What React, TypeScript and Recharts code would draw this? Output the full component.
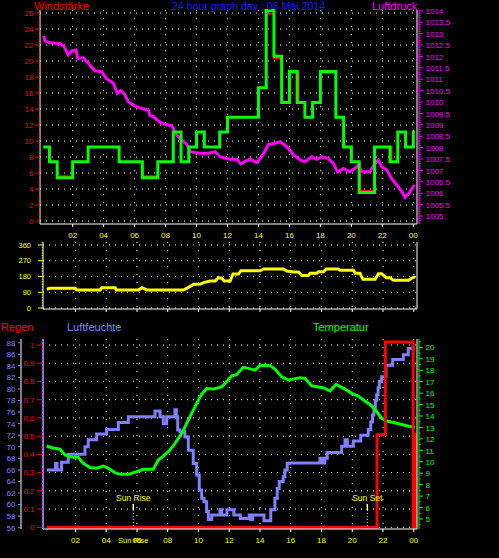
import React from 'react';
import {
  ComposedChart, Line, XAxis, YAxis, CartesianGrid, ReferenceLine, ReferenceDot,
} from 'recharts';

const FONT = '"Liberation Sans", Arial, Helvetica, sans-serif';
const RED = '#ff0000';
const MAGENTA = '#ff00ff';
const GREEN = '#00ff00';
const YELLOW = '#ffff00';
const LAVENDER = '#8080ff';
const TITLE_BLUE = '#1a1aff';
const WHITE = '#ffffff';

// x axis (hours of the day)
const hourTicks = [2, 4, 6, 8, 10, 12, 14, 16, 18, 20, 22, 24];
const hourLabels = ['02', '04', '06', '08', '10', '12', '14', '16', '18', '20', '22', '00'];

// y axis ticks and labels
const windTicks = [0, 2, 4, 6, 8, 10, 12, 14, 16, 18, 20, 22, 24, 26];
const pressureTicks = [1005, 1005.5, 1006, 1006.5, 1007, 1007.5, 1008, 1008.5, 1009, 1009.5,
  1010, 1010.5, 1011, 1011.5, 1012, 1012.5, 1013, 1013.5, 1014];
const directionTicks = [0, 90, 180, 270, 360];
const compassLabels = ['N', 'O', 'S', 'W', 'N'];
const rainTicks = [0, 0.1, 0.2, 0.3, 0.4, 0.5, 0.6, 0.7, 0.8, 0.9, 1];
const rainLabels = ['0', '0.1', '0.2', '0.3', '0.4', '0.5', '0.6', '0.7', '0.8', '0.9', '1'];
const humidityTicks = [56, 58, 60, 62, 64, 66, 68, 70, 72, 74, 76, 78, 80, 82, 84, 86, 88];
const temperatureTicks = [5, 6, 7, 8, 9, 10, 11, 12, 13, 14, 15, 16, 17, 18, 19, 20];

const sunRise = 5.76;
const sunSet = 20.98;

// [hour, hPa]
const pressure = [
  [0.13, 1012.9], [0.21, 1012.68], [0.54, 1012.6], [1.18, 1012.57], [1.44, 1012.43], [1.72, 1012.06],
  [1.98, 1012.25], [2.22, 1012.28], [2.32, 1011.92], [2.69, 1011.94], [3.01, 1011.7], [3.44, 1011.37],
  [3.88, 1011.33], [4.15, 1011.04], [4.63, 1010.82], [4.88, 1010.38], [5.1, 1010.5], [5.32, 1010.38],
  [5.6, 1010.0], [6.03, 1009.82], [6.46, 1009.72], [6.89, 1009.65], [7.0, 1009.4], [7.21, 1009.36],
  [7.53, 1009.17], [7.86, 1009.04], [8.4, 1008.96], [8.72, 1008.55], [9.04, 1008.33], [9.37, 1008.14],
  [9.6, 1007.82], [10.2, 1007.75], [10.76, 1007.75], [11.2, 1007.82], [11.52, 1007.6], [12.16, 1007.49],
  [12.6, 1007.49], [12.85, 1007.29], [13.24, 1007.43], [13.46, 1007.49], [13.89, 1007.34], [14.1, 1007.53],
  [14.4, 1007.82], [14.64, 1008.14], [15.07, 1008.19], [15.4, 1008.26], [15.83, 1008.04], [16.26, 1007.68],
  [16.7, 1007.46], [17.0, 1007.38], [17.44, 1007.6], [17.76, 1007.49], [18.1, 1007.6], [18.5, 1007.53],
  [18.84, 1007.31], [19.1, 1006.94], [19.48, 1007.09], [19.9, 1006.94], [20.24, 1007.09], [20.45, 1007.24],
  [20.67, 1006.94], [21.2, 1006.94], [21.46, 1007.24], [21.74, 1007.46], [21.96, 1007.16], [22.29, 1007.02],
  [22.6, 1006.65], [22.93, 1006.36], [23.19, 1006.14], [23.47, 1005.82], [23.75, 1006.02], [24.07, 1006.36],
];

// [hour, km/h] step changes
const gust = [
  [0.1, 9.26], [0.5, 7.41], [1.0, 5.4], [2.0, 7.41], [3.0, 9.26], [5.0, 7.41], [6.5, 5.4], [7.5, 7.41],
  [8.5, 11.11], [9.0, 7.41], [9.5, 9.26], [10.0, 11.11], [10.5, 9.26], [11.5, 11.11], [12.0, 12.96],
  [14.0, 16.67], [14.5, 26.3], [15.0, 20.6], [15.5, 14.82], [16.0, 18.7], [16.5, 14.82], [17.0, 12.96],
  [17.5, 14.82], [18.0, 18.7], [19.0, 12.96], [19.5, 9.26], [20.0, 7.41], [20.5, 3.55], [21.5, 9.26],
  [22.5, 7.41], [23.0, 11.11], [23.5, 9.26], [24.0, 11.11], [24.1, 11.11],
];
const mean = [
  [0.1, 9.26], [0.55, 7.41], [1.0, 5.6], [2.0, 7.41], [3.0, 9.26], [5.0, 7.41], [6.5, 5.6], [7.5, 7.41],
  [8.5, 11.11], [9.0, 7.41], [9.5, 9.26], [10.0, 11.11], [10.5, 9.26], [11.5, 11.11], [12.0, 12.96],
  [14.0, 16.67], [14.5, 25.9], [15.0, 20.37], [15.5, 14.82], [16.0, 18.52], [16.6, 14.82], [17.0, 12.96],
  [17.5, 14.82], [18.0, 18.52], [19.0, 12.96], [19.5, 9.26], [20.0, 7.41], [20.58, 3.75], [21.5, 9.26],
  [22.6, 7.41], [23.0, 11.11], [23.5, 9.26], [24.0, 11.11], [24.1, 11.11],
];

// [hour, degrees]
const direction = [
  [0.15, 107], [0.3, 113], [1.99, 113], [2.1, 103], [3.61, 103], [3.72, 116], [4.59, 116], [4.65, 103],
  [6.1, 103], [6.32, 116], [6.65, 103], [9.03, 103], [9.35, 118], [9.68, 135], [10.11, 135], [10.33, 145],
  [10.76, 154], [11.09, 154], [11.3, 173], [11.52, 170], [11.67, 154], [12.06, 154], [12.24, 194],
  [12.6, 194], [12.76, 213], [14.01, 213], [14.23, 223], [15.53, 223], [15.75, 211], [16.18, 206],
  [16.5, 206], [16.72, 185], [17.15, 185], [17.26, 198], [17.7, 198], [17.8, 207], [18.13, 207],
  [18.3, 223], [19.1, 223], [19.21, 215], [20.08, 215], [20.19, 198], [20.51, 198], [20.69, 164],
  [21.49, 164], [21.7, 196], [21.92, 196], [22.2, 173], [22.46, 173], [22.68, 158], [23.65, 158],
  [23.87, 170], [24.09, 179],
];

// [hour, mm]
const rain = [[0.13, 0], [21.61, 0.508], [22.15, 1.016], [23.96, 0], [24.06, 0.508], [24.1, 0]];

// [hour, %]
const humidity = [
  [0.13, 66], [0.7, 67.1], [0.8, 66], [1.1, 67.3], [1.53, 68.7], [2.62, 70], [2.83, 71.2], [3.38, 72.2],
  [4.03, 73], [4.79, 74.2], [5.44, 75.2], [7.17, 76.2], [7.5, 75.2], [7.71, 74], [7.93, 75.2], [8.47, 76.4],
  [8.56, 75.2], [8.65, 72.9], [8.8, 72.6], [9.12, 71.7], [9.34, 69.4], [9.66, 67.1], [9.88, 65.1],
  [10.05, 62.5], [10.21, 61.1], [10.36, 60.5], [10.53, 58.8], [10.64, 57.4], [10.86, 58.2], [11.4, 59.1],
  [11.5, 58.2], [11.85, 59.1], [12.3, 58.2], [12.72, 57.6], [13.3, 58.2], [13.4, 57.4], [13.52, 58.2],
  [14.26, 57.2], [14.7, 59.1], [14.97, 61.1], [15.12, 62.8], [15.25, 64.0], [15.51, 64.8], [15.62, 66.0],
  [15.77, 67.1], [15.91, 67.2], [17.9, 68], [18.05, 67.2], [18.22, 68], [18.37, 69], [19.31, 70.1],
  [19.53, 71.2], [19.68, 70.1], [20.07, 71], [20.55, 72], [21.04, 73], [21.2, 74.3], [21.32, 75.5],
  [21.41, 76.6], [21.5, 78], [21.59, 79], [21.68, 80.2], [21.76, 81.3], [21.91, 82.1], [22.19, 84.1],
  [22.63, 85.1], [23.32, 85.9], [23.64, 87.0], [24.08, 87.0],
];

// [hour, degC]
const temperature = [
  [0.13, 11.38], [0.46, 11.23], [0.99, 11.1], [1.32, 10.6], [1.76, 10.4], [2.18, 10.4], [2.51, 9.86],
  [2.95, 9.5], [3.38, 9.43], [3.81, 9.63], [4.14, 9.43], [4.57, 9.04], [4.9, 8.9], [5.44, 8.9],
  [5.98, 9.13], [6.41, 9.34], [7.06, 9.34], [7.39, 10.15], [7.71, 10.5], [8.04, 10.88], [8.36, 11.38],
  [8.69, 12.05], [8.97, 12.6], [9.23, 13.36], [9.56, 14.23], [9.88, 15.1], [10.21, 15.9], [10.53, 16.4],
  [10.96, 16.35], [11.51, 16.55], [11.83, 17.0], [12.16, 17.5], [12.48, 17.6], [12.91, 18.25],
  [13.24, 18.16], [13.67, 18.0], [14.0, 18.4], [14.65, 18.4], [14.97, 18.1], [15.41, 17.43],
  [15.84, 17.14], [16.6, 17.34], [16.92, 17.29], [17.36, 16.64], [18.11, 16.47], [18.55, 16.18],
  [18.94, 16.76], [19.53, 16.35], [19.96, 15.98], [20.39, 15.74], [20.83, 15.3], [21.26, 14.9],
  [21.59, 14.37], [21.91, 13.8], [22.24, 13.56], [22.89, 13.36], [23.54, 13.15], [24.08, 13.0],
];

const rows = (pairs: number[][]) => pairs.map(([h, v]) => ({ h, v }));

// minor tick positions between the labelled ones
const steps = (from: number, to: number, step: number) => {
  const out: number[] = [];
  for (let i = 0; from + i * step <= to + 1e-9; i++) out.push(+(from + i * step).toFixed(4));
  return out;
};
const findMajor = (majors: number[], v: number) => majors.findIndex(m => Math.abs(m - v) < 1e-6);

const leftTick = (o: { majors: number[]; labels: string[]; color: string; edge: number; textRight: number; fontSize: number; majorLen: number; minorLen: number }) =>
  (p: any) => {
    const i = findMajor(o.majors, p.payload.value);
    return (
      <g>
        <line x1={o.edge - (i >= 0 ? o.majorLen : o.minorLen)} x2={o.edge} y1={p.y} y2={p.y} stroke={o.color} />
        {i >= 0 && (
          <text x={o.textRight} y={p.y} dy={o.fontSize * 0.36} textAnchor="end" fill={o.color}
            fontSize={o.fontSize} fontFamily={FONT}>{o.labels[i]}</text>
        )}
      </g>
    );
  };

const rightTick = (o: { majors: number[]; labels: string[]; color: string; edge: number; textLeft: number; fontSize: number; majorLen: number; minorLen: number }) =>
  (p: any) => {
    const i = findMajor(o.majors, p.payload.value);
    return (
      <g>
        <line x1={o.edge} x2={o.edge + (i >= 0 ? o.majorLen : o.minorLen)} y1={p.y} y2={p.y} stroke={o.color} />
        {i >= 0 && (
          <text x={o.textLeft} y={p.y} dy={o.fontSize * 0.4} textAnchor="start" fill={o.color}
            fontSize={o.fontSize} fontFamily={FONT}>{o.labels[i]}</text>
        )}
      </g>
    );
  };

const hourTick = (axisY: number, labelY: number, showLabel: boolean) => (p: any) => {
  const i = hourTicks.indexOf(p.payload.value);
  return (
    <g>
      <line x1={p.x} x2={p.x} y1={axisY} y2={axisY + 3} stroke={WHITE} />
      {showLabel && (
        <text x={p.x} y={labelY} textAnchor="middle" fill={YELLOW} fontSize={8} fontFamily={FONT}>{hourLabels[i]}</text>
      )}
    </g>
  );
};

const compassTick = (p: any) => {
  const i = findMajor(directionTicks, p.payload.value);
  return (
    <text x={439} y={p.y} dy={5.5} textAnchor="middle" fill={YELLOW} fontSize={12} fontFamily={FONT}>{compassLabels[i]}</text>
  );
};

const frameY = <YAxis yAxisId="frame" orientation="right" type="number" domain={[0, 1]} width={2}
  axisLine={{ stroke: WHITE }} tick={false} tickLine={false} />;

const App: React.FC = () => {
  const X_TOP: [number, number] = [-0.11, 24.24];
  const X_LOW: [number, number] = [-0.11, 24.21];
  return (
    <div style={{ position: 'absolute', left: 0, top: 0, width: 499, height: 558, background: '#000', overflow: 'hidden', fontFamily: FONT }}>
      {/* wind speed + pressure */}
      <div style={{ position: 'absolute', left: 0, top: 0 }}>
        <ComposedChart width={499} height={245} margin={{ top: 10, right: 0, bottom: 0, left: 0 }}>
          <XAxis xAxisId="h" type="number" dataKey="h" domain={X_TOP} ticks={hourTicks} interval={0} height={21}
            axisLine={{ stroke: WHITE }} tickLine={false} tick={hourTick(224, 238, true)} />
          <XAxis xAxisId="top" orientation="top" type="number" domain={[0, 1]} height={0}
            axisLine={{ stroke: WHITE }} tick={false} tickLine={false} />
          <YAxis yAxisId="wind" type="number" domain={[-0.375, 26.375]} width={40} interval={0}
            ticks={steps(0, 26, 1 / 3)} axisLine={{ stroke: WHITE }} tickLine={false}
            tick={leftTick({ majors: windTicks, labels: windTicks.map(String), color: RED, edge: 40, textRight: 33.5, fontSize: 8, majorLen: 4.5, minorLen: 1.2 })} />
          {frameY}
          <YAxis yAxisId="pressure" orientation="right" type="number" domain={[1004.65, 1014.035]} width={80} interval={0}
            ticks={steps(1004.7, 1014, 0.1)} axisLine={{ stroke: MAGENTA }} tickLine={false}
            tick={rightTick({ majors: pressureTicks, labels: pressureTicks.map(String), color: MAGENTA, edge: 419, textLeft: 425.5, fontSize: 8, majorLen: 4, minorLen: 1.5 })} />
          <CartesianGrid xAxisId="h" yAxisId="wind" vertical={false} horizontalValues={windTicks}
            stroke={WHITE} strokeDasharray="1 5" />
          <CartesianGrid xAxisId="h" yAxisId="wind" horizontal={false} verticalValues={hourTicks}
            stroke={WHITE} strokeDasharray="1 7" />
          <Line xAxisId="h" yAxisId="pressure" data={rows(pressure)} dataKey="v" type="linear"
            stroke={MAGENTA} strokeWidth={3} dot={false} isAnimationActive={false} />
          <Line xAxisId="h" yAxisId="wind" data={rows(mean)} dataKey="v" type="stepAfter"
            stroke={RED} strokeWidth={2} dot={false} isAnimationActive={false} />
          <Line xAxisId="h" yAxisId="wind" data={rows(gust)} dataKey="v" type="stepAfter"
            stroke={GREEN} strokeWidth={3} dot={false} isAnimationActive={false} />
        </ComposedChart>
      </div>

      {/* wind direction */}
      <div style={{ position: 'absolute', left: 0, top: 230 }}>
        <ComposedChart width={499} height={90} margin={{ top: 12, right: 0, bottom: 0, left: 0 }}>
          <XAxis xAxisId="h" type="number" dataKey="h" domain={X_LOW} ticks={hourTicks} interval={0} height={11}
            axisLine={{ stroke: WHITE }} tickLine={false} tick={hourTick(79, 0, false)} />
          <XAxis xAxisId="top" orientation="top" type="number" domain={[0, 1]} height={0}
            axisLine={{ stroke: WHITE }} tick={false} tickLine={false} />
          <YAxis yAxisId="dir" type="number" domain={[-5.7, 377.1]} width={43} interval={0}
            ticks={steps(0, 375, 15)} axisLine={{ stroke: WHITE }} tickLine={false}
            tick={leftTick({ majors: directionTicks, labels: directionTicks.map(String), color: YELLOW, edge: 43, textRight: 31, fontSize: 7.5, majorLen: 5, minorLen: 1.2 })} />
          <YAxis yAxisId="compass" orientation="right" type="number" domain={[-5.7, 377.1]} width={82} interval={0}
            ticks={directionTicks} axisLine={{ stroke: WHITE }} tickLine={false} tick={compassTick} />
          <CartesianGrid xAxisId="h" yAxisId="dir" vertical={false} horizontalValues={directionTicks}
            stroke={WHITE} strokeDasharray="1 5" />
          <CartesianGrid xAxisId="h" yAxisId="dir" horizontal={false} verticalValues={hourTicks}
            stroke={WHITE} strokeDasharray="1 7" />
          <Line xAxisId="h" yAxisId="dir" data={rows(direction)} dataKey="v" type="linear"
            stroke={YELLOW} strokeWidth={3} dot={false} isAnimationActive={false} />
        </ComposedChart>
      </div>

      {/* rain, humidity, temperature */}
      <div style={{ position: 'absolute', left: 0, top: 315 }}>
        <ComposedChart width={499} height={243} margin={{ top: 24, right: 0, bottom: 0, left: 0 }}>
          <XAxis xAxisId="h" type="number" dataKey="h" domain={X_LOW} ticks={hourTicks} interval={0} height={29}
            axisLine={{ stroke: WHITE }} tickLine={false} tick={hourTick(214, 228, true)} />
          <XAxis xAxisId="top" orientation="top" type="number" domain={[0, 1]} height={0}
            axisLine={{ stroke: WHITE }} tick={false} tickLine={false} />
          <YAxis yAxisId="rain" type="number" domain={[-0.0093, 1.033]} width={21} interval={0}
            ticks={steps(0, 1.02, 0.02)} axisLine={{ stroke: WHITE }} tickLine={false}
            tick={leftTick({ majors: rainTicks, labels: rainLabels, color: RED, edge: 43, textRight: 34.5, fontSize: 8, majorLen: 6, minorLen: 1.5 })} />
          <YAxis yAxisId="hum" type="number" domain={[55.775, 88.64]} width={22} interval={0}
            ticks={humidityTicks} axisLine={{ stroke: LAVENDER, strokeWidth: 2 }} tickLine={false}
            tick={leftTick({ majors: humidityTicks, labels: humidityTicks.map(String), color: LAVENDER, edge: 22, textRight: 15.5, fontSize: 8, majorLen: 4, minorLen: 2 })} />
          {frameY}
          <YAxis yAxisId="temp" orientation="right" type="number" domain={[4.126, 20.725]} width={80} interval={0}
            ticks={steps(4.5, 20.5, 0.5)} axisLine={{ stroke: GREEN }} tickLine={false}
            tick={rightTick({ majors: temperatureTicks, labels: temperatureTicks.map(String), color: GREEN, edge: 419, textLeft: 425.5, fontSize: 8, majorLen: 4, minorLen: 1.5 })} />
          <CartesianGrid xAxisId="h" yAxisId="rain" vertical={false} horizontalValues={rainTicks}
            stroke={WHITE} strokeDasharray="1 5" />
          <CartesianGrid xAxisId="h" yAxisId="rain" horizontal={false} verticalValues={hourTicks}
            stroke={WHITE} strokeDasharray="1 7" />
          <ReferenceLine xAxisId="h" yAxisId="rain" segment={[{ x: sunRise, y: -0.0093 }, { x: sunRise, y: 0.095 }]}
            stroke={YELLOW} strokeDasharray="1 2" />
          <ReferenceLine xAxisId="h" yAxisId="rain" segment={[{ x: sunRise, y: 0.095 }, { x: sunRise, y: 0.128 }]}
            stroke={WHITE} strokeWidth={1.5} />
          <ReferenceLine xAxisId="h" yAxisId="rain" segment={[{ x: sunSet, y: -0.0093 }, { x: sunSet, y: 0.095 }]}
            stroke={YELLOW} strokeDasharray="1 2" />
          <ReferenceLine xAxisId="h" yAxisId="rain" segment={[{ x: sunSet, y: 0.095 }, { x: sunSet, y: 0.128 }]}
            stroke={WHITE} strokeWidth={1.5} />
          <ReferenceDot xAxisId="h" yAxisId="rain" x={sunRise} y={0.161} r={1} fill="none" stroke="none"
            label={{ value: 'Sun Rise', position: 'center', fill: YELLOW, fontSize: 8.5, fontFamily: FONT }} />
          <ReferenceDot xAxisId="h" yAxisId="rain" x={sunSet} y={0.161} r={1} fill="none" stroke="none"
            label={{ value: 'Sun Set', position: 'center', fill: YELLOW, fontSize: 8.5, fontFamily: FONT }} />
          <ReferenceDot xAxisId="h" yAxisId="rain" x={sunRise} y={-0.07} r={1} fill="none" stroke="none" ifOverflow="visible"
            label={{ value: 'Sun Rise', position: 'center', fill: YELLOW, fontSize: 7.5, fontFamily: FONT }} />
          <Line xAxisId="h" yAxisId="hum" data={rows(humidity)} dataKey="v" type="stepAfter"
            stroke={LAVENDER} strokeWidth={3} dot={false} isAnimationActive={false} />
          <Line xAxisId="h" yAxisId="temp" data={rows(temperature)} dataKey="v" type="linear"
            stroke={GREEN} strokeWidth={3} dot={false} isAnimationActive={false} />
          <Line xAxisId="h" yAxisId="rain" data={rows(rain)} dataKey="v" type="stepAfter"
            stroke={RED} strokeWidth={3} dot={false} isAnimationActive={false} />
        </ComposedChart>
      </div>

      {/* titles */}
      <svg width={499} height={558} style={{ position: 'absolute', left: 0, top: 0, pointerEvents: 'none' }}>
        <g fontFamily={FONT} fontSize={11}>
          <text x={34} y={9.5} fill={RED}>Windstärke</text>
          <text x={172} y={9.5} fill={TITLE_BLUE} fontSize={10.6}>24 hour graph day : 06 Mai 2014</text>
          <text x={372} y={9.5} fill={MAGENTA}>Luftdruck</text>
          <text x={1} y={331} fill={RED}>Regen</text>
          <text x={67} y={331} fill={LAVENDER}>Luftfeuchte</text>
          <text x={313} y={331} fill={GREEN}>Temperatur</text>
        </g>
      </svg>
    </div>
  );
};

export default App;
